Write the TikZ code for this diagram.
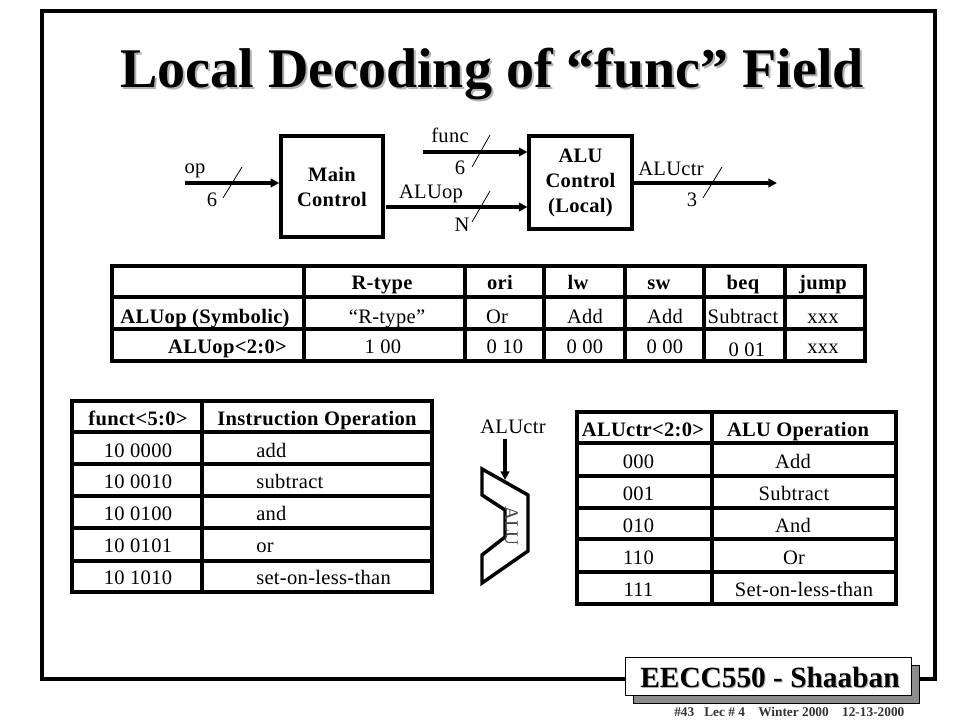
\documentclass[tikz,border=0pt]{standalone}
\usepackage{fontspec}
\setmainfont{Liberation Serif}
\usetikzlibrary{arrows.meta}
\tikzset{
 x=0.75pt,y=-0.75pt,
 frameline/.style={line width=2.6pt,line cap=round},
 rule/.style={line width=2.3pt,line cap=rect},
 blockbox/.style={draw,line width=2.6pt,inner sep=0pt,align=center,font=\fontsize{15.4}{18.75}\selectfont\bfseries\addfontfeature{LetterSpace=1.5}},
 sig/.style={line width=2.4pt,-{Triangle[length=6.5pt,width=6.5pt]}},
 slash/.style={line width=0.6pt},
 lab/.style={font=\fontsize{15.4}{18}\selectfont\addfontfeature{LetterSpace=1.5},inner sep=0pt,anchor=base},
 blab/.style={font=\fontsize{15.4}{18}\selectfont\bfseries\addfontfeature{LetterSpace=1.5},inner sep=0pt,anchor=base},
 titletext/.style={font=\fontsize{42}{46}\selectfont\bfseries,inner sep=0pt,anchor=base},
 badgetext/.style={font=\fontsize{22}{24}\selectfont\bfseries,inner sep=0pt,anchor=base},
}
\begin{document}
\begin{tikzpicture}
\useasboundingbox (0,0) rectangle (960,720);
\fill[white] (0,0) rectangle (960,720);
% frame
\draw[frameline] (42,11) rectangle (935,679);
% title
\node[titletext,text=black!30] at (494,90) {Local Decoding of “func” Field};
\node[titletext] (title) at (492,88) {Local Decoding of “func” Field};
% badge
\fill[black!45,draw=black,line width=.5pt] (633,665) rectangle (919,703);
\node[draw=black,fill=white,line width=.6pt,minimum width=215pt,minimum height=28.5pt,inner sep=0pt] (badge) at (768.5,676) {};
\node[badgetext,text=black!30] at (771,688.5) {EECC550 - Shaaban};
\node[badgetext] at (770,687) {EECC550 - Shaaban};
\node[font=\fontsize{10}{12}\selectfont\bfseries,text=black!80,inner sep=0pt,anchor=base west] at (674,716) {\#43~~~Lec \# 4~~~~Winter 2000~~~~12-13-2000};
% blocks
\node[blockbox,minimum width=76.5pt,minimum height=75.5pt] (main) at (332,186.5) {Main\\Control};
\node[blockbox,minimum width=77pt,minimum height=69.5pt] (aluc) at (580.5,182.5) {ALU\\Control\\(Local)};
\coordinate (opin) at (185,183);
\coordinate (fin) at (423,152);
\coordinate (aoin) at (386,207);
\coordinate (ctrout) at (777,183);
\draw[sig] (opin) -- (main.west |- opin);
\draw[sig] (fin) -- (aluc.west |- fin);
\draw[sig] (aoin) -- (aluc.west |- aoin);
\draw[sig] (aluc.east |- ctrout) -- (ctrout);
\draw[slash] (223,198) -- (242,167);
\draw[slash] (472,167) -- (490,135);
\draw[slash] (472,222) -- (490,191);
\draw[slash] (703,198) -- (722,167);
\node[lab] (op) at (195,174) {op};
\node[lab] (six1) at (212,207) {6};
\node[lab] (func) at (450,143) {func};
\node[lab] (six2) at (460,175) {6};
\node[lab] (aluop) at (431,199) {ALUop};
\node[lab] (enn) at (462,232) {N};
\node[lab] (ctr) at (671,176) {ALUctr};
\node[lab] (three) at (692,207) {3};
% table 1
\draw[rule] (112,266) rectangle (865,361);
\foreach \y in {297,329} \draw[rule] (112,\y) -- (865,\y);
\foreach \x in {304,465,544,625,704,785} \draw[rule] (\x,266) -- (\x,361);
\node[blab] at (382,290) {R-type};
\node[blab] at (500,290) {ori};
\node[blab] at (578,290) {lw};
\node[blab] at (659,290) {sw};
\node[blab] at (743,290) {beq};
\node[blab] at (823,290) {jump};
\node[blab] at (205,323) {ALUop (Symbolic)};
\node[lab] at (387,323) {“R-type”};
\node[lab] at (497,323) {Or};
\node[lab] at (585,323) {Add};
\node[lab] at (665,323) {Add};
\node[lab] at (743,324) {Subtract};
\node[lab] at (823,323) {xxx};
\node[blab] at (227.5,353) {ALUop<2:0>};
\node[lab] at (383,353) {1 00};
\node[lab] at (505,353) {0 10};
\node[lab] at (585,353) {0 00};
\node[lab] at (665,353) {0 00};
\node[lab] at (747,356) {0 01};
\node[lab] at (823,353) {xxx};
% table 2
\draw[rule] (72,401) rectangle (432,592);
\foreach \y in {432,464,496,528,561} \draw[rule] (72,\y) -- (432,\y);
\draw[rule] (202,401) -- (202,592);
\node[blab] at (138,425) {funct<5:0>};
\node[blab] at (317,425) {Instruction Operation};
\foreach \y/\c/\t in {457/10 0000/add,488/10 0010/subtract,520/10 0100/and,552/10 0101/or,584/10 1010/set-on-less-than}{
 \node[lab] at (138,\y) {\c};
 \node[lab,anchor=base west] at (256,\y) {\t};
}
% table 3
\draw[rule] (577,412) rectangle (896,604);
\foreach \y in {443,476,508,539,572} \draw[rule] (577,\y) -- (896,\y);
\draw[rule] (712,412) -- (712,604);
\node[blab] at (643,436) {ALUctr<2:0>};
\node[blab] at (798,436) {ALU Operation};
\foreach \y/\c/\t/\p in {468/000/Add/793,500/001/Subtract/794,532/010/And/793,564/110/Or/794,596/111/Set-on-less-than/804}{
 \node[lab] at (638.5,\y) {\c};
 \node[lab] at (\p,\y) {\t};
}
% ALU
\node[lab] (actr) at (513,433) {ALUctr};
\draw[line width=2.6pt,line join=miter] (482,495) -- (505,510) -- (505,537) -- (482,555) -- (482,583) -- (528,551) -- (528,495) -- (482,469) -- cycle;
\coordinate (alustart) at (505,439);
\coordinate (alutop) at (505,480);
\draw[sig] (alustart) -- (alutop);
\node[font=\fontsize{14.5}{16}\selectfont,text=black!75,inner sep=0pt,anchor=base,rotate=-90] (alu) at (505,526) {ALU};
\end{tikzpicture}
\end{document}
